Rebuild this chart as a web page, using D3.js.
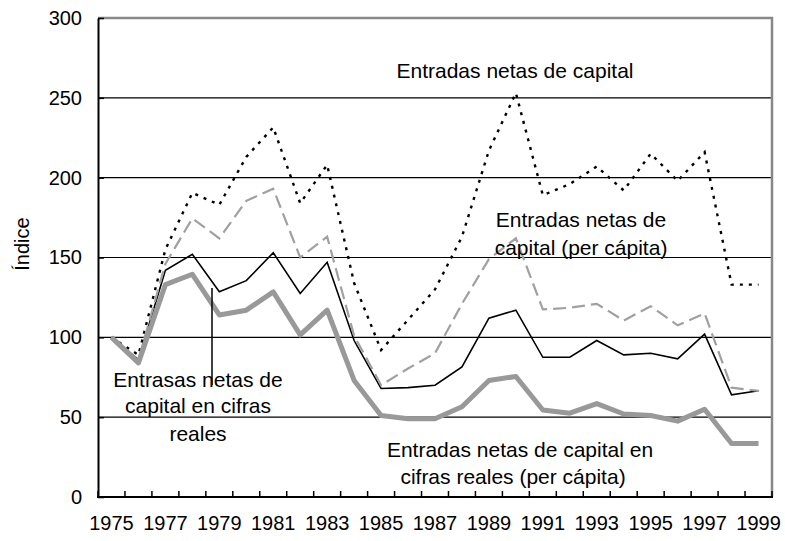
<!DOCTYPE html>
<html>
<head>
<meta charset="utf-8">
<script src="https://cdn.jsdelivr.net/npm/d3@7.9.0/dist/d3.min.js"></script>
<style>
  body { margin: 0; background: #fff; }
  svg { display: block; font-family: "Liberation Sans", Arial, sans-serif; }
</style>
</head>
<body>
<svg width="785" height="541"></svg>
<script>
const years = ['1975', '1976', '1977', '1978', '1979', '1980', '1981', '1982', '1983', '1984', '1985', '1986', '1987',
  '1988', '1989', '1990', '1991', '1992', '1993', '1994', '1995', '1996', '1997', '1998', '1999'];
const xLabels = ['1975', '1977', '1979', '1981', '1983', '1985', '1987', '1989', '1991', '1993', '1995', '1997', '1999'];
const yTicks = [0, 50, 100, 150, 200, 250, 300];

// índices, 1975 = 100
const capital = [100, 89, 155, 190.5, 183, 213, 231.5, 184, 208, 134, 92, 111, 130, 163, 217, 253, 189, 196, 207, 192, 215, 198, 216, 133, 133];
const capitalPerCapita = [100, 86, 146, 174.5, 162, 185.5, 193, 150, 163, 101, 70, 80.5, 90, 121, 149, 162, 117.5, 118.5, 121, 110.5, 119.5, 107.5, 115, 68.5, 66.5];
const capitalReal = [100, 86, 142, 152, 128.5, 135.5, 153, 127.5, 147, 98, 68, 68.5, 70, 81.5, 112, 117, 87.5, 87.5, 98, 89, 90, 86.5, 102, 64, 66.5];
const capitalRealPerCapita = [100, 84, 133, 139.5, 114, 117, 128.5, 101.5, 117, 73, 51, 49, 49, 56.5, 73, 75.5, 54.5, 52.5, 58.5, 52, 51, 47.5, 55, 33.5, 33.5];

let svg = d3.select('svg');
let plotLeft = 98, plotRight = 772, plotTop = 18, plotBottom = 497;

let x = d3.scaleBand().domain(years).range([plotLeft, plotRight]);
let y = d3.scaleLinear().domain([0, 300]).range([plotBottom, plotTop]);

// grid
svg.append('g')
  .selectAll('line')
  .data(yTicks.filter((d) => d > 0 && d < 300))
  .join('line')
  .attr('x1', plotLeft)
  .attr('x2', plotRight)
  .attr('y1', (d) => y(d))
  .attr('y2', (d) => y(d))
  .attr('stroke', '#000')
  .attr('stroke-width', 1.2);

// marco gris arriba y a la derecha
svg.append('path')
  .attr('d', `M${plotLeft},${y(300)}H${plotRight}V${plotBottom}`)
  .attr('fill', 'none')
  .attr('stroke', '#888')
  .attr('stroke-width', 2.5);

let yAxis = svg.append('g')
  .attr('transform', `translate(${plotLeft},0)`)
  .call(d3.axisLeft(y).tickValues(yTicks).tickSize(-6).tickSizeOuter(0).tickPadding(16));
yAxis.select('.domain').attr('stroke-width', 2);
yAxis.selectAll('.tick line').attr('stroke-width', 1.5);
yAxis.selectAll('text').attr('font-size', 20).attr('fill', '#000');
yAxis.attr('font-family', null).attr('font-size', null);

// eje x: marcas entre categorías
let bounds = years.map((d) => x(d)).concat([plotRight]);
svg.append('g')
  .selectAll('line')
  .data(bounds)
  .join('line')
  .attr('x1', (d) => d)
  .attr('x2', (d) => d)
  .attr('y1', plotBottom)
  .attr('y2', plotBottom - 6)
  .attr('stroke', '#000')
  .attr('stroke-width', 1.5);
svg.append('line')
  .attr('x1', plotLeft - 1)
  .attr('x2', plotRight + 1)
  .attr('y1', plotBottom)
  .attr('y2', plotBottom)
  .attr('stroke', '#000')
  .attr('stroke-width', 2);
svg.append('g')
  .selectAll('text')
  .data(xLabels)
  .join('text')
  .attr('x', (d) => x(d) + x.bandwidth() / 2)
  .attr('y', 530)
  .attr('text-anchor', 'middle')
  .attr('font-size', 20)
  .text((d) => d);

svg.append('text')
  .attr('transform', 'translate(29,244) rotate(-90)')
  .attr('text-anchor', 'middle')
  .attr('font-size', 20)
  .text('Índice');

let line = d3.line()
  .x((d, i) => x(years[i]) + x.bandwidth() / 2)
  .y((d) => y(d));

svg.append('path')
  .attr('d', line(capital))
  .attr('fill', 'none')
  .attr('stroke', '#000')
  .attr('stroke-width', 2.4)
  .attr('stroke-dasharray', '3,6');

svg.append('path')
  .attr('d', line(capitalReal))
  .attr('fill', 'none')
  .attr('stroke', '#000')
  .attr('stroke-width', 1.6);

svg.append('path')
  .attr('d', line(capitalPerCapita))
  .attr('fill', 'none')
  .attr('stroke', '#a0a0a0')
  .attr('stroke-width', 2.2)
  .attr('stroke-dasharray', '13,6');

svg.append('path')
  .attr('d', line(capitalRealPerCapita))
  .attr('fill', 'none')
  .attr('stroke', '#999')
  .attr('stroke-width', 5)
  .attr('stroke-linejoin', 'round');

// rótulos
let notes = [
  { x: 515, y: 78, text: 'Entradas netas de capital' },
  { x: 581, y: 227, text: 'Entradas netas de' },
  { x: 581, y: 255, text: 'capital (per cápita)' },
  { x: 198, y: 387, text: 'Entrasas netas de' },
  { x: 198, y: 413, text: 'capital en cifras' },
  { x: 198, y: 441, text: 'reales' },
  { x: 520, y: 457, text: 'Entradas netas de capital en' },
  { x: 513, y: 484, text: 'cifras reales (per cápita)' },
];
svg.append('g')
  .selectAll('text')
  .data(notes)
  .join('text')
  .attr('x', (d) => d.x)
  .attr('y', (d) => d.y)
  .attr('text-anchor', 'middle')
  .attr('font-size', 21)
  .text((d) => d.text);

svg.append('line')
  .attr('x1', 212)
  .attr('x2', 212)
  .attr('y1', 288)
  .attr('y2', 385)
  .attr('stroke', '#000')
  .attr('stroke-width', 1.5);
</script>
</body>
</html>
